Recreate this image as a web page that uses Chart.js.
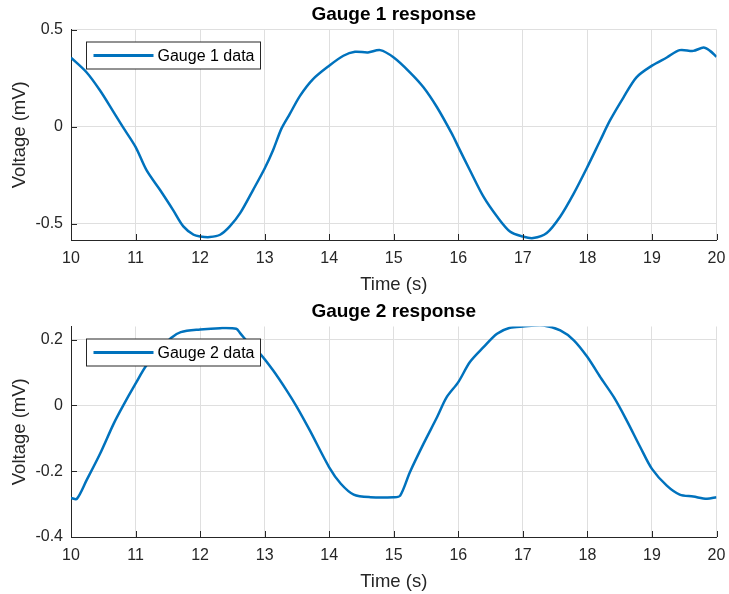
<!DOCTYPE html>
<html>
<head>
<meta charset="utf-8">
<script src="https://cdn.jsdelivr.net/npm/chart.js@4.4.1/dist/chart.umd.min.js"></script>
<style>
  html, body { margin: 0; padding: 0; background: #fff; }
  .plot { position: relative; width: 729px; height: 297px; }
</style>
</head>
<body>
<div class="plot"><canvas id="g1"></canvas></div>
<div class="plot"><canvas id="g2"></canvas></div>
<script>
// Gauge 1 samples
const time1 = [10, 10.24, 10.45, 10.66, 10.8, 11, 11.17, 11.38, 11.58, 11.74, 11.9, 12, 12.15, 12.31, 12.46, 12.62, 12.82, 13, 13.13, 13.26, 13.39, 13.55, 13.75, 14, 14.22, 14.4, 14.6, 14.79, 15, 15.25, 15.46, 15.67, 15.9, 16, 16.18, 16.39, 16.6, 16.8, 17, 17.16, 17.37, 17.58, 17.79, 18, 18.2, 18.35, 18.56, 18.76, 19, 19.23, 19.43, 19.64, 19.8, 19.9, 20];
const gauge1 = [0.355, 0.28, 0.186, 0.075, 0, -0.104, -0.224, -0.326, -0.428, -0.513, -0.556, -0.565, -0.568, -0.556, -0.513, -0.445, -0.326, -0.215, -0.121, -0.01, 0.066, 0.16, 0.245, 0.314, 0.365, 0.385, 0.382, 0.394, 0.356, 0.28, 0.203, 0.10, -0.036, -0.104, -0.224, -0.36, -0.462, -0.539, -0.565, -0.573, -0.547, -0.462, -0.343, -0.207, -0.07, 0.032, 0.151, 0.254, 0.314, 0.356, 0.394, 0.39, 0.407, 0.39, 0.36];

// Gauge 2 samples
const time2 = [10, 10.09, 10.24, 10.45, 10.66, 10.81, 11, 11.17, 11.38, 11.55, 11.7, 12, 12.31, 12.56, 12.62, 12.75, 12.93, 13.13, 13.34, 13.5, 13.7, 14, 14.18, 14.38, 14.64, 15, 15.1, 15.25, 15.46, 15.67, 15.82, 16, 16.18, 16.39, 16.6, 16.8, 17, 17.32, 17.58, 17.79, 18, 18.2, 18.41, 18.61, 18.82, 19, 19.23, 19.43, 19.64, 19.85, 20];
const gauge2 = [-0.281, -0.284, -0.228, -0.147, -0.056, 0, 0.066, 0.122, 0.167, 0.205, 0.223, 0.231, 0.235, 0.233, 0.22, 0.19, 0.157, 0.107, 0.046, -0.005, -0.076, -0.188, -0.238, -0.271, -0.279, -0.279, -0.274, -0.203, -0.117, -0.036, 0.025, 0.071, 0.132, 0.177, 0.218, 0.236, 0.24, 0.243, 0.228, 0.198, 0.147, 0.086, 0.025, -0.046, -0.127, -0.193, -0.244, -0.271, -0.277, -0.284, -0.279];

const xTicks = [10, 11, 12, 13, 14, 15, 16, 17, 18, 19, 20];
const yTicks1 = [-0.5, 0, 0.5];
const yTicks2 = [-0.4, -0.2, 0, 0.2];

const FONT = "'Liberation Sans', Arial, sans-serif";
const AX = '#262626';
const GRID = '#dfdfdf';
const BLUE = '#0072bd';

// inward tick marks + boxed legend drawn over the data, MATLAB style
const matlabAxes = {
  id: 'matlabAxes',
  afterDatasetsDraw(chart, args, opts) {
    const { ctx, chartArea: a, scales: { x, y } } = chart;
    ctx.save();
    ctx.strokeStyle = AX; ctx.lineWidth = 1;
    ctx.beginPath();
    x.ticks.forEach(t => {
      const px = Math.round(x.getPixelForValue(t.value)) + 0.5;
      ctx.moveTo(px, a.bottom); ctx.lineTo(px, a.bottom - 6);
    });
    y.ticks.forEach(t => {
      const py = Math.round(y.getPixelForValue(t.value)) + 0.5;
      ctx.moveTo(a.left, py); ctx.lineTo(a.left + 6, py);
    });
    ctx.stroke();

    const lx = a.left + 15.5, ly = a.top + 12.5, lw = 174, lh = 27;
    ctx.fillStyle = '#fff'; ctx.fillRect(lx, ly, lw, lh);
    ctx.strokeStyle = '#262626'; ctx.lineWidth = 1; ctx.strokeRect(lx, ly, lw, lh);
    ctx.beginPath(); ctx.strokeStyle = BLUE; ctx.lineWidth = 3;
    ctx.moveTo(lx + 7, ly + lh / 2); ctx.lineTo(lx + 67, ly + lh / 2); ctx.stroke();
    ctx.fillStyle = '#000'; ctx.font = '16px ' + FONT;
    ctx.textBaseline = 'middle'; ctx.textAlign = 'left';
    ctx.fillText(opts.label, lx + 71, ly + lh / 2 + 1);
    ctx.restore();
  }
};

function makeGauge(id, times, values, yMin, yMax, yTicks, title, legendLabel) {
  return new Chart(document.getElementById(id), {
    type: 'line',
    data: {
      datasets: [{
        label: legendLabel,
        data: times.map((t, i) => ({ x: t, y: values[i] })),
        borderColor: BLUE, borderWidth: 2.5, pointRadius: 0,
        tension: 0.3, fill: false,
      }],
    },
    options: {
      responsive: true, maintainAspectRatio: false, animation: false,
      layout: { padding: { left: 0, right: 12.5, top: 0, bottom: 0 } },
      plugins: {
        legend: { display: false },
        tooltip: { enabled: false },
        title: {
          display: true, text: title, fullSize: false, color: '#000',
          font: { family: FONT, size: 19, weight: 'bold' },
          padding: { top: 3.6, bottom: 3.1 },
        },
        matlabAxes: { label: legendLabel },
      },
      scales: {
        x: {
          type: 'linear', min: 10, max: 20,
          afterBuildTicks: s => { s.ticks = xTicks.map(v => ({ value: v })); },
          afterFit: s => { s.height = 57; s.paddingLeft = 0; s.paddingRight = 0; },
          ticks: { color: AX, font: { family: FONT, size: 16 }, padding: 8.7, maxRotation: 0, callback: v => String(v) },
          grid: { color: GRID, drawTicks: false },
          border: { color: AX, width: 1 },
          title: { display: true, text: 'Time (s)', color: AX, font: { family: FONT, size: 18.5 }, padding: { top: 0, bottom: 1 } },
        },
        y: {
          min: yMin, max: yMax,
          afterBuildTicks: s => { s.ticks = yTicks.map(v => ({ value: v })); },
          afterFit: s => { s.width = 71; s.paddingTop = 0; s.paddingBottom = 0; },
          ticks: { color: AX, font: { family: FONT, size: 16 }, padding: 8, callback: v => String(v) },
          grid: { color: GRID, drawTicks: false },
          border: { color: AX, width: 1 },
          title: { display: true, text: 'Voltage (mV)', color: AX, font: { family: FONT, size: 18.5 }, padding: { top: 8.9, bottom: 0 } },
        },
      },
    },
    plugins: [matlabAxes],
  });
}

makeGauge('g1', time1, gauge1, -0.583, 0.5, yTicks1, 'Gauge 1 response', 'Gauge 1 data');
makeGauge('g2', time2, gauge2, -0.4, 0.24, yTicks2, 'Gauge 2 response', 'Gauge 2 data');
</script>
</body>
</html>
